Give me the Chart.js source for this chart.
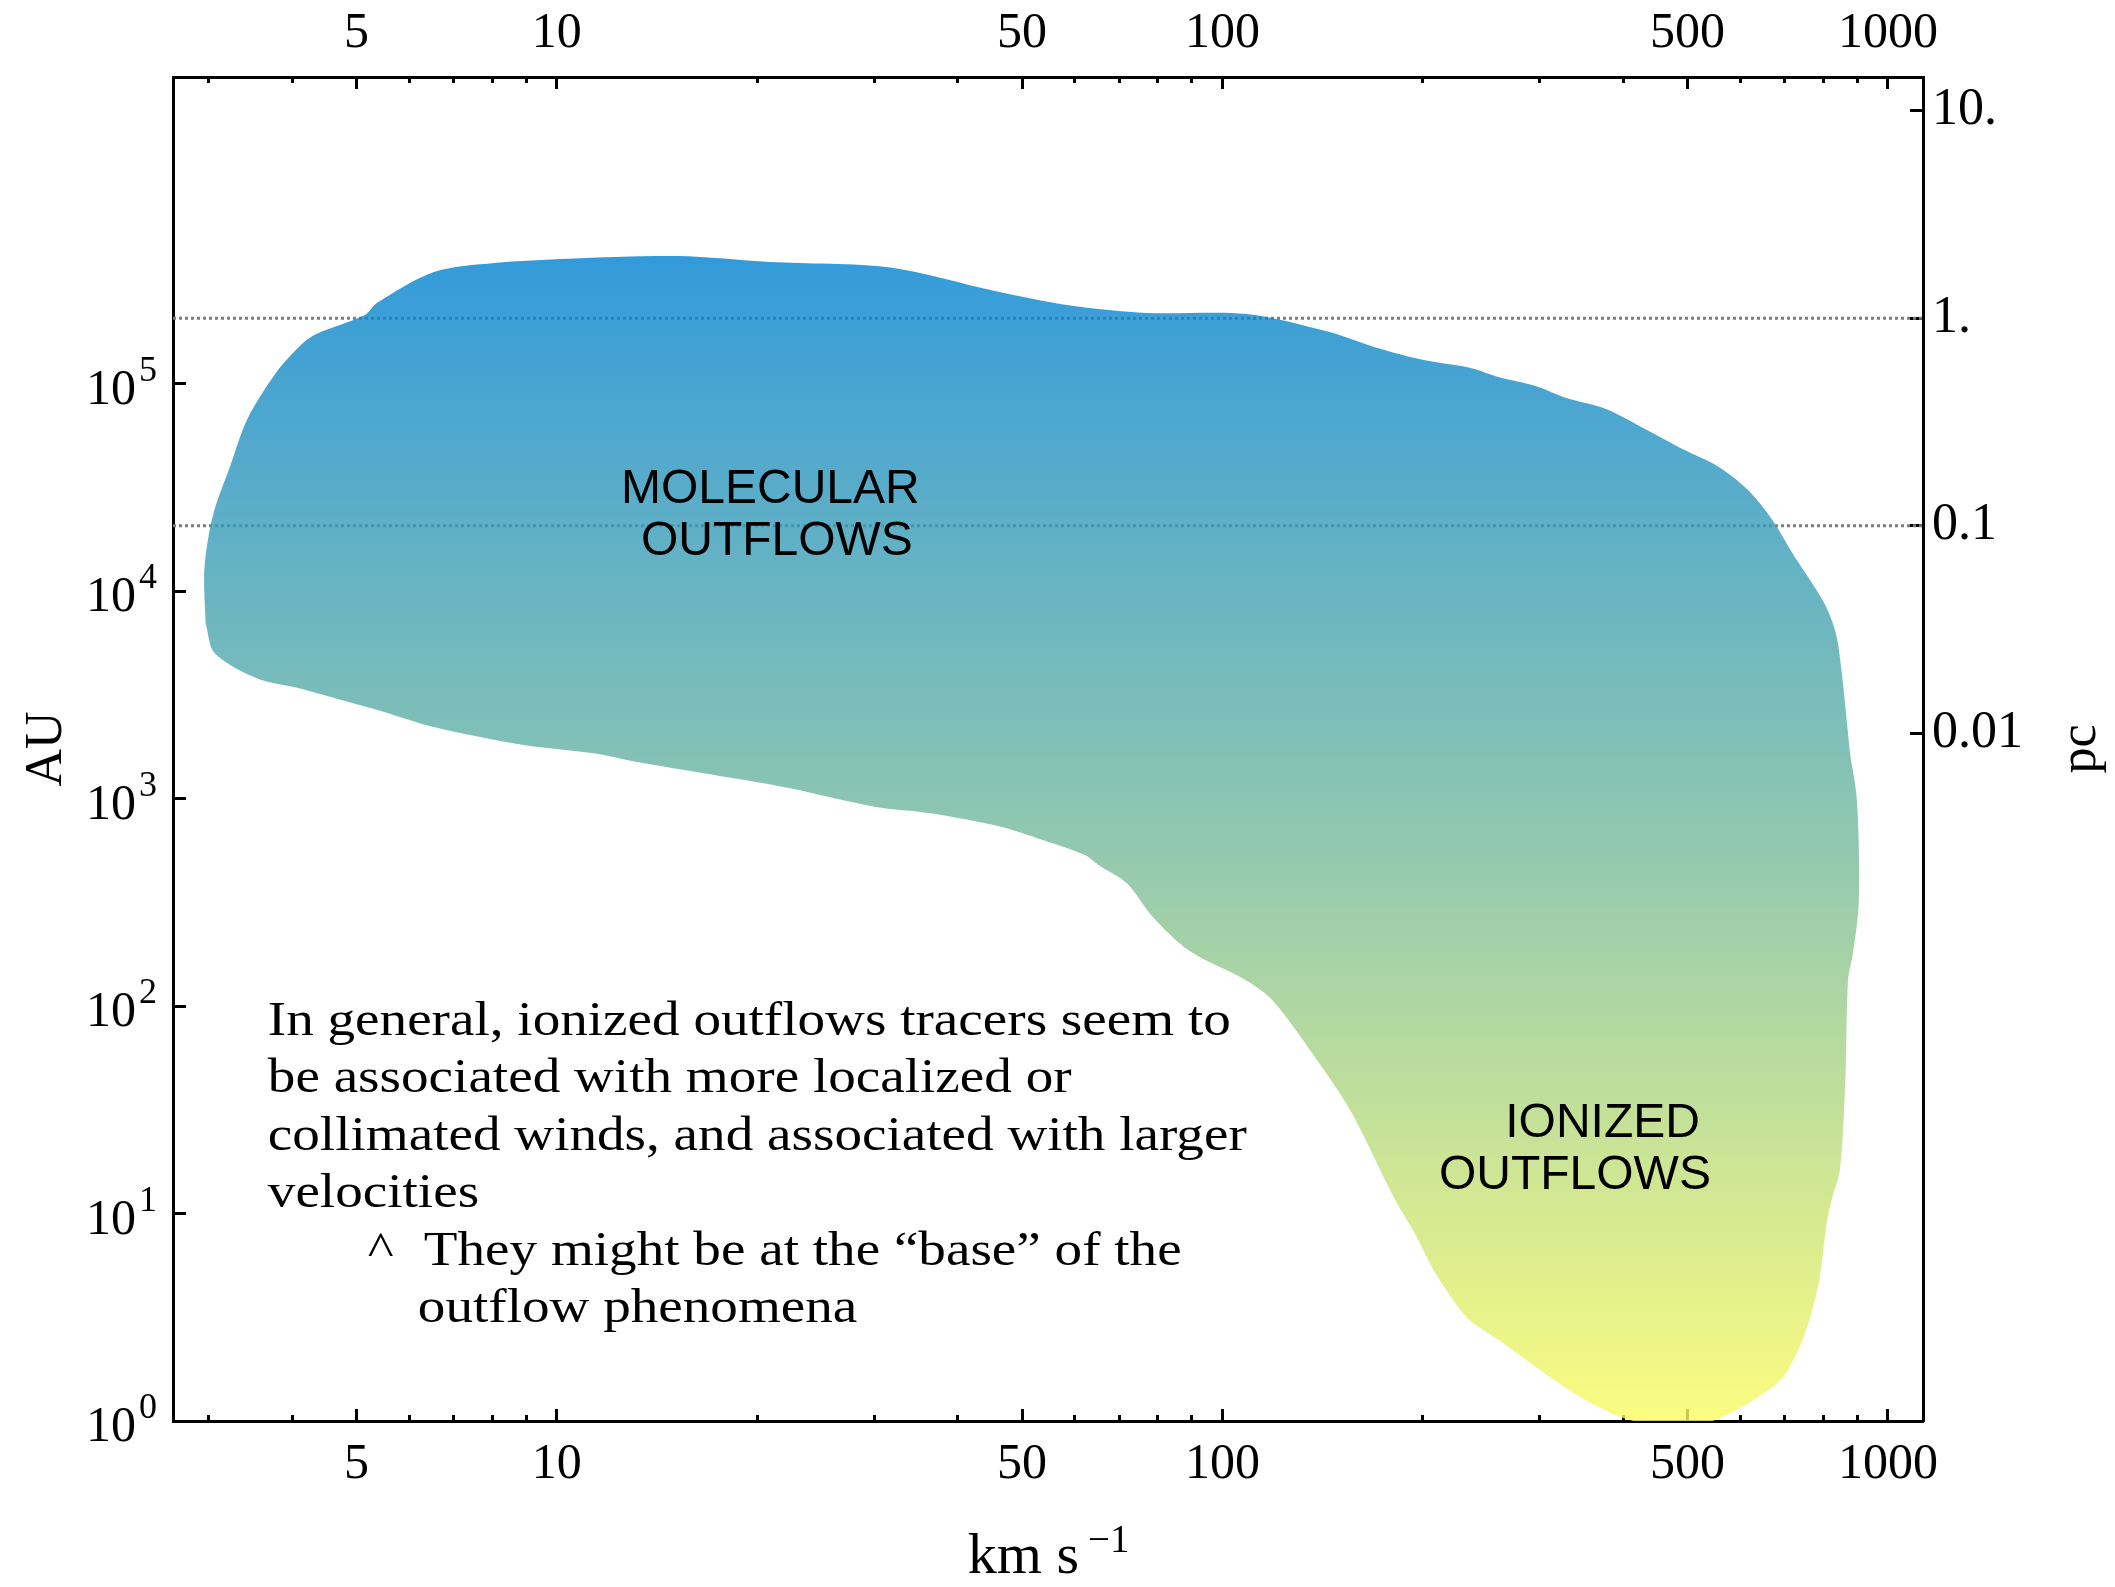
<!DOCTYPE html>
<html>
<head>
<meta charset="utf-8">
<title>Outflow size versus velocity</title>
<script src="https://cdn.jsdelivr.net/npm/chart.js@4.4.1/dist/chart.umd.min.js"></script>
<style>
  html, body { margin: 0; padding: 0; background: #ffffff; }
  canvas { display: block; }
</style>
</head>
<body>
<canvas id="chart" width="2115" height="1587"></canvas>
<script>
// Outline of the outflow region in the velocity / size plane,
// traced clockwise starting from the low-velocity edge.
const outlineVelocity = [
  2.966, 2.954, 3.041, 3.230, 3.428, 3.783, 4.139, 4.351, 5.146, 5.364,
  6.535, 8.056, 10.42, 15.20, 20.89, 31.72, 45.36, 59.13, 77.00, 108.8,
  144.8, 170.5, 200.7, 236.2, 261.2, 295.5, 327.0, 376.9, 434.4, 491.4,
  555.3, 615.0, 667.2, 723.8, 801.4, 834.9, 852.0, 869.7, 878.3, 896.5,
  904.5, 903.1, 886.1, 870.9, 863.0, 847.1, 824.8, 809.7, 787.6, 746.3,
  694.0, 633.4, 547.6, 482.5, 402.5, 348.0, 306.3, 260.3, 233.4, 209.3,
  194.7, 181.0, 156.5, 140.4, 119.1, 108.8, 89.07, 78.49, 71.86, 65.44,
  62.14, 53.72, 46.45, 36.42, 30.00, 22.42, 18.45, 13.14, 11.36, 8.915,
  6.503, 5.486, 4.742, 4.096, 3.541, 3.062, 2.966
];
const outlineSizeAU = [
  7015, 12760, 22970, 40000, 67450, 112300, 154900, 173200, 213800, 244300,
  344600, 380800, 399700, 411500, 385200, 362300, 280000, 237400, 218700, 216300,
  177100, 148800, 129800, 118800, 106800, 97270, 85600, 75340, 59700, 48310,
  39810, 30840, 22480, 14660, 8803, 6276, 4093, 2162, 1608, 1051,
  558.5, 296.6, 180.0, 132.0, 43.5, 16.3, 11.93, 9.13, 4.677, 2.512,
  1.611, 1.285, 1.006, 0.920, 1.028, 1.285, 1.680, 2.457, 3.136, 5.11,
  7.99, 11.93, 30.5, 51.95, 105.9, 132.4, 184.9, 270.0, 390.1, 472.8,
  534.2, 631.0, 731.3, 848.7, 912.9, 1120, 1251, 1504, 1651, 1810,
  2218, 2620, 2984, 3396, 3795, 5009, 7015
];

// Axis ranges and ticks
const velocityRange = [2.65, 1129];          // km s^-1
const sizeRangeAU = [1, 3.0e6];              // AU
const velocityMajorTicks = [5, 10, 50, 100, 500, 1000];
const velocityMinorTicks = [3, 4, 6, 7, 8, 9, 20, 30, 40, 60, 70, 80, 90,
                            200, 300, 400, 600, 700, 800, 900];
const auTickExponents = [0, 1, 2, 3, 4, 5];
const pcTickValues = [0.01, 0.1, 1, 10];
const pcTickLabels = ['0.01', '0.1', '1.', '10.'];
const pcGuideLines = [1, 0.1];
const AU_PER_PC = 206264.8;

// Text content
const regionLabels = [
  { text: 'MOLECULAR', kms: 20.93, au: 26560 },
  { text: 'OUTFLOWS',  kms: 21.41, au: 14910 },
  { text: 'IONIZED',   kms: 372.6, au: 23.37 },
  { text: 'OUTFLOWS',  kms: 338.6, au: 13.13 }
];
const noteRows = [
  [[0, 'In general, ionized outflows tracers seem to']],
  [[0, 'be associated with more localized or']],
  [[0, 'collimated winds, and associated with larger']],
  [[0, 'velocities']],
  [[100, '^'], [156, 'They might be at the \u201cbase\u201d of the']],
  [[150, 'outflow phenomena']]
];
const noteAnchor = { kms: 3.679, au: 72.47 };

// Styling
const SERIF = "'Liberation Serif', 'Times New Roman', serif";
const SANS = "'Liberation Sans', Arial, sans-serif";
const tickFont = { family: SERIF, size: 50 };
const pcTickFont = { family: SERIF, size: 52 };

const outlinePoints = outlineVelocity.map((v, i) => ({ x: v, y: outlineSizeAU[i] }));

function regionGradient(context) {
  const chart = context.chart;
  const { ctx, chartArea, scales } = chart;
  if (!chartArea || !scales.y) return 'rgba(110,180,190,0.8)';
  const top = scales.y.getPixelForValue(Math.max(...outlineSizeAU));
  const bottom = scales.y.getPixelForValue(Math.min(...outlineSizeAU));
  const g = ctx.createLinearGradient(0, top, 0, bottom);
  g.addColorStop(0.0, 'rgba(0,129,209,0.8)');
  g.addColorStop(0.5, 'rgba(118,186,156,0.8)');
  g.addColorStop(1.0, 'rgba(252,252,96,0.8)');
  return g;
}

const guideDatasets = pcGuideLines.map(pc => ({
  type: 'line',
  label: pc + ' pc',
  data: [{ x: velocityRange[0], y: pc * AU_PER_PC }, { x: velocityRange[1], y: pc * AU_PER_PC }],
  borderColor: 'rgb(125,125,125)',
  borderWidth: 3,
  borderDash: [3, 3],
  pointRadius: 0,
  fill: false,
  order: 1
}));

const regionDataset = {
  type: 'line',
  label: 'outflows',
  data: outlinePoints,
  borderWidth: 0,
  borderColor: 'rgba(0,0,0,0)',
  backgroundColor: regionGradient,
  pointRadius: 0,
  tension: 0.3,
  fill: 'shape',
  order: 0
};

function velocityAxis(position, weight, height, major) {
  return {
    type: 'logarithmic',
    position,
    weight,
    bounds: 'data',
    min: velocityRange[0],
    max: velocityRange[1],
    afterBuildTicks: s => { s.ticks = (major ? velocityMajorTicks : velocityMinorTicks).map(v => ({ value: v })); },
    afterFit: s => { s.height = height; },
    ticks: {
      display: major,
      autoSkip: false,
      maxRotation: 0,
      minRotation: 0,
      padding: position === 'bottom' ? 26 : 25,
      color: '#000',
      font: tickFont,
      callback: v => String(v)
    },
    grid: {
      display: true,
      drawOnChartArea: false,
      drawTicks: true,
      tickLength: major ? -12 : -6,
      tickWidth: 3,
      tickColor: '#000'
    },
    border: { display: major, color: '#000', width: 3 }
  };
}

// Left tick labels with exponents, axis titles
const axisTextPlugin = {
  id: 'axisText',
  afterDraw(chart) {
    const { ctx, chartArea } = chart;
    const yScale = chart.scales.y;
    ctx.save();
    ctx.fillStyle = '#000';
    auTickExponents.forEach(e => {
      const py = yScale.getPixelForValue(Math.pow(10, e));
      ctx.font = '50px ' + SERIF;
      ctx.textAlign = 'right';
      ctx.textBaseline = 'alphabetic';
      ctx.fillText('10', chartArea.left - 37, py + 20);
      ctx.font = '36px ' + SERIF;
      ctx.textAlign = 'left';
      ctx.fillText(String(e), chartArea.left - 34, py - 3);
    });

    const midY = (chartArea.top + chartArea.bottom) / 2;
    ctx.font = '52px ' + SERIF;
    ctx.textAlign = 'center';
    ctx.textBaseline = 'alphabetic';
    ctx.save();
    ctx.translate(chartArea.left - 112, midY);
    ctx.rotate(-Math.PI / 2);
    ctx.fillText('AU', 0, 0);
    ctx.restore();
    ctx.save();
    ctx.translate(chartArea.right + 172, midY);
    ctx.rotate(-Math.PI / 2);
    ctx.fillText('pc', 0, 0);
    ctx.restore();

    const midX = (chartArea.left + chartArea.right) / 2;
    ctx.font = '58px ' + SERIF;
    ctx.textAlign = 'right';
    ctx.fillText('km s', midX + 31, chartArea.bottom + 152);
    ctx.font = '39px ' + SERIF;
    ctx.textAlign = 'left';
    ctx.fillText('\u22121', midX + 40, chartArea.bottom + 131);
    ctx.restore();
  }
};

// Region names and the explanatory note
const annotationPlugin = {
  id: 'annotations',
  afterDatasetsDraw(chart) {
    const { ctx } = chart;
    const xs = chart.scales.x, ys = chart.scales.y;
    ctx.save();
    ctx.fillStyle = '#000';
    ctx.font = '48px ' + SANS;
    ctx.textAlign = 'center';
    ctx.textBaseline = 'alphabetic';
    regionLabels.forEach(l => {
      ctx.fillText(l.text, xs.getPixelForValue(l.kms), ys.getPixelForValue(l.au));
    });

    ctx.font = '48px ' + SERIF;
    ctx.textAlign = 'left';
    const x0 = xs.getPixelForValue(noteAnchor.kms);
    const y0 = ys.getPixelForValue(noteAnchor.au);
    const stretch = 963 / ctx.measureText(noteRows[0][0][1]).width;
    noteRows.forEach((row, i) => {
      row.forEach(([indent, text]) => {
        ctx.save();
        ctx.translate(x0 + indent, y0 + i * 57.4);
        ctx.scale(stretch, 1);
        ctx.fillText(text, 0, 0);
        ctx.restore();
      });
    });
    ctx.restore();
  }
};

new Chart(document.getElementById('chart'), {
  type: 'line',
  data: { datasets: [regionDataset, ...guideDatasets] },
  options: {
    responsive: false,
    animation: false,
    events: [],
    layout: { padding: 0 },
    plugins: { legend: { display: false }, title: { display: false }, tooltip: { enabled: false } },
    scales: {
      x: velocityAxis('bottom', 1, 166, true),
      xMinor: velocityAxis('bottom', 0, 0, false),
      xTop: velocityAxis('top', 1, 77, true),
      xTopMinor: velocityAxis('top', 0, 0, false),
      y: {
        type: 'logarithmic',
        position: 'left',
        bounds: 'data',
        min: sizeRangeAU[0],
        max: sizeRangeAU[1],
        afterBuildTicks: s => { s.ticks = auTickExponents.map(e => ({ value: Math.pow(10, e) })); },
        afterFit: s => { s.width = 173; },
        ticks: { display: false, autoSkip: false },
        grid: { display: true, drawOnChartArea: false, drawTicks: true, tickLength: -13, tickWidth: 3, tickColor: '#000' },
        border: { display: true, color: '#000', width: 3 }
      },
      yPc: {
        type: 'logarithmic',
        position: 'right',
        bounds: 'data',
        min: sizeRangeAU[0],
        max: sizeRangeAU[1],
        afterBuildTicks: s => { s.ticks = pcTickValues.map(p => ({ value: p * AU_PER_PC })); },
        afterFit: s => { s.width = 192; },
        ticks: {
          autoSkip: false,
          padding: 22,
          color: '#000',
          font: pcTickFont,
          callback: (v, i) => pcTickLabels[i]
        },
        grid: { display: true, drawOnChartArea: false, drawTicks: true, tickLength: -13, tickWidth: 3, tickColor: '#000' },
        border: { display: true, color: '#000', width: 3 }
      }
    }
  },
  plugins: [axisTextPlugin, annotationPlugin]
});
</script>
</body>
</html>
